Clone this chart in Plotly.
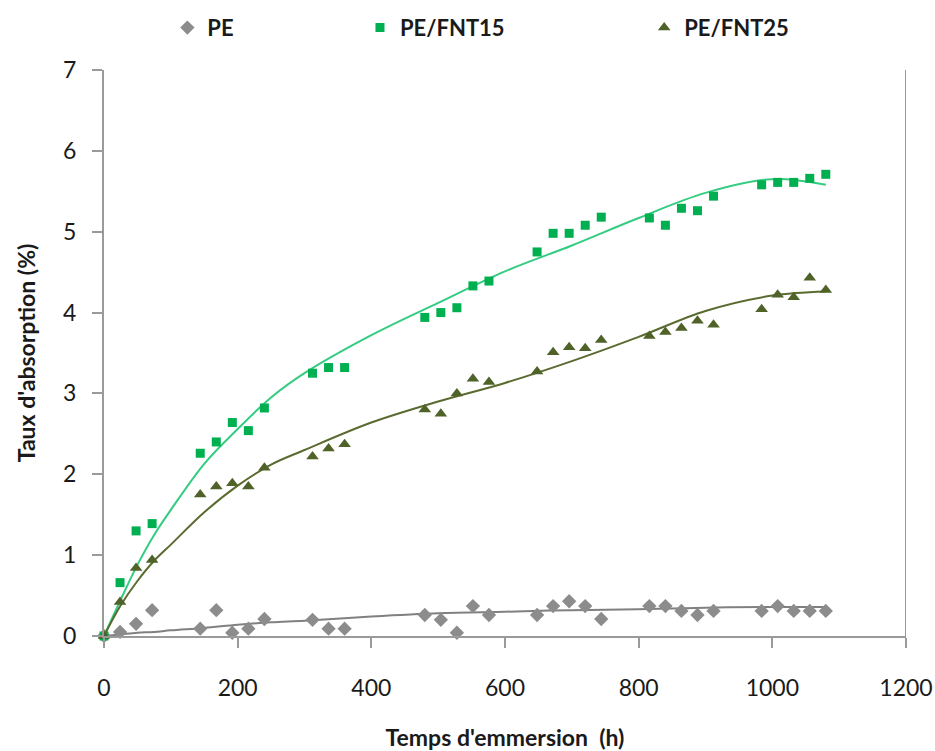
import plotly.graph_objects as go

# Temps d'immersion (h)
hours = [0, 24, 48, 72, 144, 168, 192, 216, 240, 312, 336, 360, 480, 504, 528, 552, 576,
         648, 672, 696, 720, 744, 816, 840, 864, 888, 912, 984, 1008, 1032, 1056, 1080]

pe = [0, 0.05, 0.15, 0.32, 0.09, 0.32, 0.04, 0.09, 0.21, 0.20, 0.09, 0.09, 0.26, 0.20, 0.04, 0.37, 0.26,
      0.26, 0.37, 0.43, 0.37, 0.21, 0.37, 0.37, 0.31, 0.26, 0.31, 0.31, 0.37, 0.31, 0.31, 0.31]
pe_fnt15 = [0, 0.66, 1.30, 1.39, 2.26, 2.40, 2.64, 2.54, 2.82, 3.25, 3.32, 3.32, 3.94, 4.00, 4.06, 4.33, 4.39,
            4.75, 4.98, 4.98, 5.08, 5.18, 5.17, 5.08, 5.29, 5.26, 5.44, 5.58, 5.61, 5.61, 5.66, 5.71]
pe_fnt25 = [0, 0.42, 0.84, 0.94, 1.75, 1.85, 1.89, 1.85, 2.08, 2.22, 2.32, 2.37, 2.80, 2.75, 3.00, 3.18, 3.14,
            3.27, 3.51, 3.57, 3.56, 3.66, 3.71, 3.76, 3.81, 3.90, 3.85, 4.04, 4.22, 4.19, 4.43, 4.28]

# courbes de tendance
trend_x = [0, 25, 50, 75, 100, 150, 200, 250, 300, 400, 500, 600, 700, 800, 900, 1000, 1080]
trend_pe = [0, 0.02, 0.04, 0.05, 0.07, 0.10, 0.14, 0.17, 0.19, 0.24, 0.28, 0.30, 0.32, 0.33, 0.35, 0.36, 0.36]
trend_fnt15 = [0, 0.45, 0.88, 1.25, 1.56, 2.13, 2.56, 2.95, 3.25, 3.72, 4.12, 4.51, 4.83, 5.17, 5.48, 5.65, 5.58]
trend_fnt25 = [0, 0.38, 0.68, 0.93, 1.13, 1.53, 1.86, 2.12, 2.30, 2.64, 2.90, 3.13, 3.40, 3.70, 4.02, 4.21, 4.26]

FONT = "Lato, Open Sans, sans-serif"
TXT = "#1a1a1a"
AXIS = "#9a9a9a"

series = [
    ("PE", pe, trend_pe, "#8c8c8c", "#808080", "diamond", 11, "legend"),
    ("PE/FNT15", pe_fnt15, trend_fnt15, "#00b050", "#33cc80", "square", 9, "legend2"),
    ("PE/FNT25", pe_fnt25, trend_fnt25, "#4f6228", "#5a6b30", "triangle-up", 11, "legend3"),
]

fig = go.Figure()
for name, vals, trend, mcol, lcol, sym, size, leg in series:
    fig.add_trace(go.Scatter(
        x=trend_x, y=trend, mode="lines", line=dict(color=lcol, width=2, shape="spline"),
        showlegend=False, hoverinfo="skip", cliponaxis=False,
    ))
    fig.add_trace(go.Scatter(
        x=hours, y=vals, mode="markers", name=name, legend=leg,
        marker=dict(symbol=sym, size=size, color=mcol), cliponaxis=False,
    ))

legend_style = dict(
    orientation="h", xref="container", yref="container", y=0.963, yanchor="middle",
    font=dict(family=FONT, size=22, color=TXT, weight="bold"),
    bgcolor="rgba(0,0,0,0)", itemwidth=30,
)

fig.update_layout(
    width=935, height=751,
    margin=dict(l=104, r=29, t=70, b=115, autoexpand=False),
    paper_bgcolor="white", plot_bgcolor="white",
    font=dict(family=FONT, color=TXT),
    legend=dict(x=0.179, **legend_style),
    legend2=dict(x=0.385, **legend_style),
    legend3=dict(x=0.689, **legend_style),
    xaxis=dict(
        range=[0, 1200], dtick=200, tick0=0, automargin=False,
        showgrid=False, zeroline=False,
        showline=True, linecolor=AXIS, linewidth=2,
        ticks="outside", ticklen=10, tickwidth=2, tickcolor=AXIS,
        ticklabelstandoff=20,
        tickfont=dict(family=FONT, size=23, color=TXT),
        title=dict(text="Temps d'emmersion  (h)", standoff=30,
                   font=dict(family=FONT, size=23, color=TXT, weight="bold")),
    ),
    yaxis=dict(
        range=[0, 7], dtick=1, tick0=0, automargin=False,
        showgrid=False, zeroline=False,
        showline=True, linecolor=AXIS, linewidth=2,
        ticks="outside", ticklen=10, tickwidth=2, tickcolor=AXIS,
        ticklabelstandoff=11,
        tickfont=dict(family=FONT, size=23, color=TXT),
        title=dict(text="Taux d'absorption (%)", standoff=21,
                   font=dict(family=FONT, size=23, color=TXT, weight="bold")),
    ),
    shapes=[dict(type="line", xref="x", yref="y", x0=1200, x1=1200, y0=0, y1=7,
                 line=dict(color=AXIS, width=2))],
)

# la page a une marge de 8 px par défaut : on la retire
fig.write_html("out.html", config={"displayModeBar": False},
               post_script="document.body.style.margin = '0';")
